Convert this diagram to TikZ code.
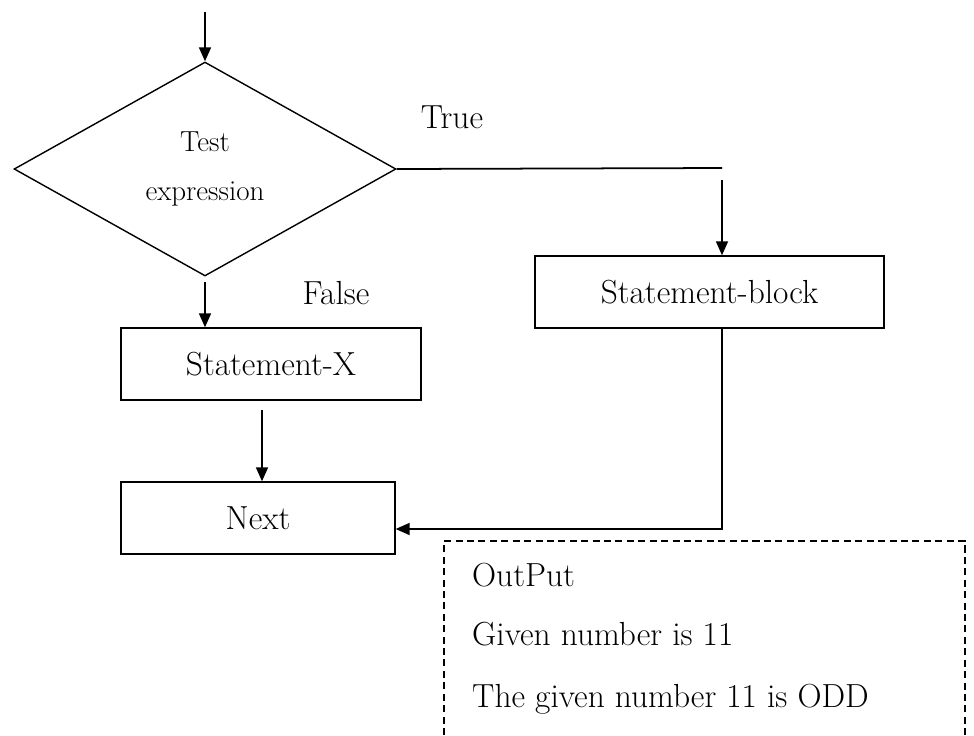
\documentclass[tikz,border=0pt]{standalone}
\usetikzlibrary{arrows.meta,positioning,shapes.geometric}
\tikzset{
  flowbox/.style={draw,line width=.8pt,rectangle,inner sep=0pt,minimum height=1.44cm},
  decision/.style={draw,line width=.8pt,diamond,inner sep=0pt,minimum width=7.64cm,minimum height=4.28cm},
  flowarrow/.style={line width=1pt,-{Triangle[length=.28cm,width=.24cm]}},
  bigtext/.style={font=\fontsize{19}{23}\selectfont}
}
\begin{document}
\begin{tikzpicture}[x=.02cm,y=-.02cm,bigtext]
        \useasboundingbox (0,0) rectangle (974,735);
        \node[decision,align=center,font=\fontsize{16.5}{28}\selectfont] (test) at (205,169) {Test\\expression};
        \node[flowbox,minimum width=6cm] (stmtx) at (271,364) {Statement-X};
        \node[flowbox,minimum width=6.98cm] (stmtblock) at (709.5,292) {Statement-block};
        \node[flowbox,minimum width=5.48cm] (nextbox) at (258,518) {Next};
        \node (truelbl) at (452,117) {True};
        \node (falselbl) at (336,293) {False};
        \coordinate (start) at (205,12);
        \coordinate (fstart) at (205,282);
        \coordinate (trueend) at (722,168);
        \coordinate (tstart) at (722,180);
        \coordinate (xdown) at (262,410);
        \coordinate (bend) at (722,529);
        \draw[flowarrow] (start) -- (test.north);
        \draw[line width=1pt] (test.east) -- (trueend);
        \draw[flowarrow] (tstart) -- (tstart |- stmtblock.north);
        \draw[flowarrow] (fstart) -- (fstart |- stmtx.north);
        \draw[flowarrow] (xdown) -- (xdown |- nextbox.north);
        \draw[flowarrow] (stmtblock.south -| bend) -- (bend) -- (bend -| nextbox.east);
        \draw[line width=.8pt,dash pattern=on 4pt off 2.5pt] (444,735) -- (444,541) -- (965,541) -- (965,735);
        \node[anchor=base west] (outhead) at (466,586) {OutPut};
        \node[anchor=base west] (outline1) at (466,645) {Given number is 11};
        \node[anchor=base west] (outline2) at (466,707) {The given number 11 is ODD};
      \end{tikzpicture}
\end{document}
